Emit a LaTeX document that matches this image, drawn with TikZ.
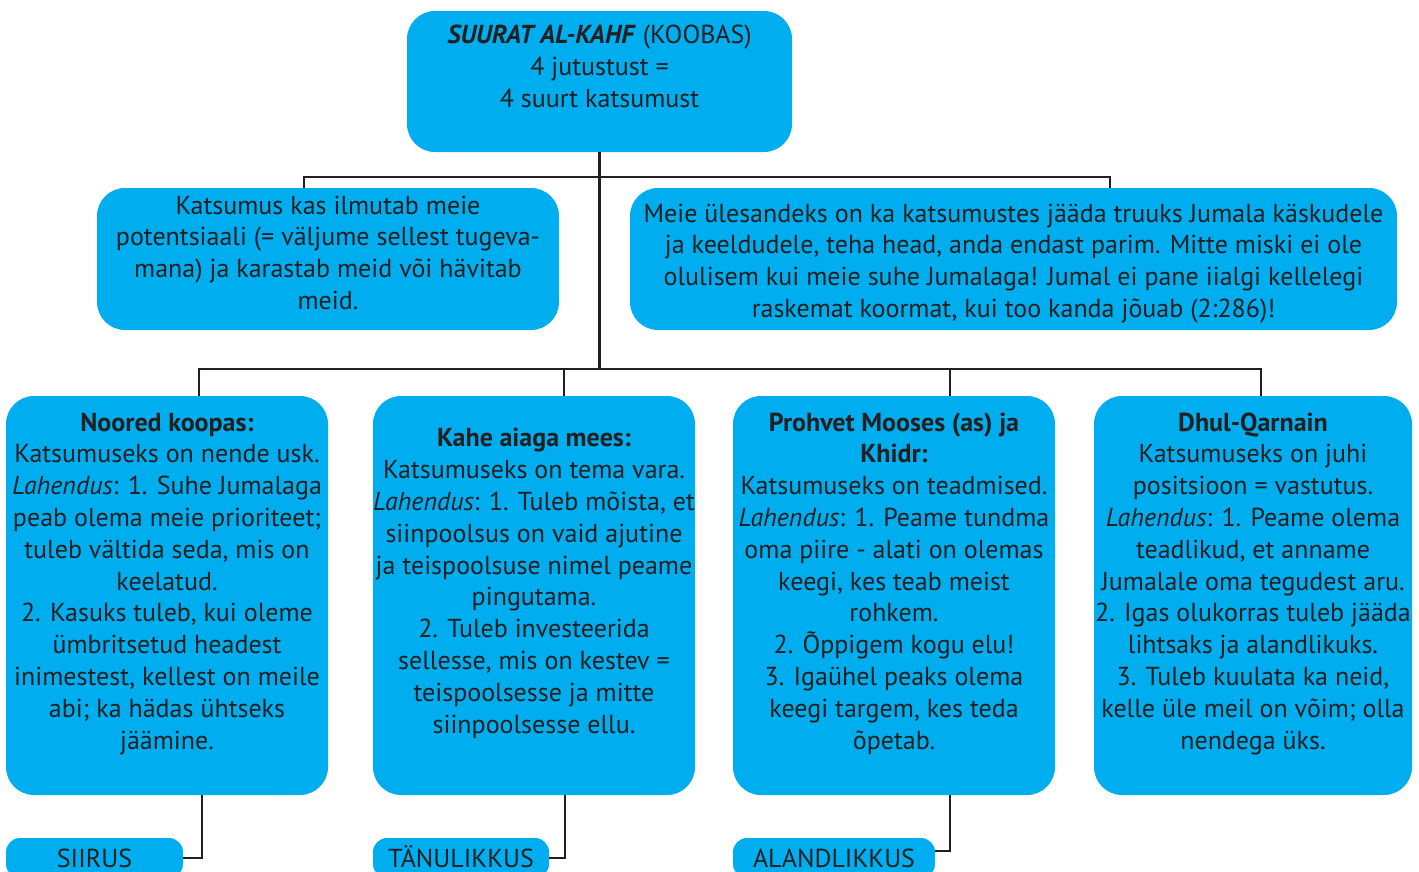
\documentclass[tikz,border=0pt]{standalone}
\usepackage{fontspec}
\setmainfont{PT Sans}
\usetikzlibrary{positioning}
\definecolor{boxcyan}{HTML}{00AEEF}
\definecolor{inkdark}{HTML}{231F20}
\tikzset{
  box/.style={fill=boxcyan, rounded corners=28pt, inner sep=0pt},
  txt/.style={align=center, text=inkdark, inner sep=0pt, anchor=base,
    font=\fontsize{26}{31.8}\selectfont},
  tag/.style={fill=boxcyan, rounded corners=14pt, text=inkdark, inner sep=0pt,
    minimum height=40pt, text height=18pt, text depth=0pt,
    font=\fontsize{26}{31.8}\selectfont},
  link/.style={draw=inkdark, line width=2.3pt}
}
\begin{document}
\begin{tikzpicture}[x=1pt,y=-1pt]
	\useasboundingbox (0,0) rectangle (1419,871);

	% boxes
	\node[box, minimum width=385pt, minimum height=141pt] (top) at (599.5,81.5) {};
	\node[box, minimum width=462pt, minimum height=142pt] (ml) at (328,259) {};
	\node[box, minimum width=767pt, minimum height=142pt] (mr) at (1013.5,259) {};
	\node[box, minimum width=322pt, minimum height=399pt] (b1) at (167,595.5) {};
	\node[box, minimum width=322pt, minimum height=399pt] (b2) at (534,595.5) {};
	\node[box, minimum width=322pt, minimum height=399pt] (b3) at (894,595.5) {};
	\node[box, minimum width=318pt, minimum height=399pt] (b4) at (1253,595.5) {};

	% texts (anchored at the baseline of their last line)
	\node[txt] (toptxt) at (599.5,107) {\textbf{\textit{SUURAT AL-KAHF}} (KOOBAS)\\4 jutustust =\\4 suurt katsumust};
	\node[txt] (mltxt) at (328,309.5) {Katsumus kas ilmutab meie\\potentsiaali (= väljume sellest tugeva-\\mana) ja karastab meid või hävitab\\meid.};
	\node[txt] (mrtxt) at (1013.5,317.5) {Meie ülesandeks on ka katsumustes jääda truuks Jumala käskudele\\ja keeldudele, teha head, anda endast parim. Mitte miski ei ole\\olulisem kui meie suhe Jumalaga! Jumal ei pane iialgi kellelegi\\raskemat koormat, kui too kanda jõuab (2:286)!};
	\node[txt] (b1txt) at (167,749) {\textbf{Noored koopas:}\\Katsumuseks on nende usk.\\\textit{Lahendus}: 1. Suhe Jumalaga\\peab olema meie prioriteet;\\tuleb vältida seda, mis on\\keelatud.\\2. Kasuks tuleb, kui oleme\\ümbritsetud headest\\inimestest, kellest on meile\\abi; ka hädas ühtseks\\jäämine.};
	\node[txt] (b2txt) at (534,733) {\textbf{Kahe aiaga mees:}\\Katsumuseks on tema vara.\\\textit{Lahendus}: 1. Tuleb mõista, et\\siinpoolsus on vaid ajutine\\ja teispoolsuse nimel peame\\pingutama.\\2. Tuleb investeerida\\sellesse, mis on kestev =\\teispoolsesse ja mitte\\siinpoolsesse ellu.};
	\node[txt] (b3txt) at (894,749) {\textbf{Prohvet Mooses (as) ja}\\\textbf{Khidr:}\\Katsumuseks on teadmised.\\\textit{Lahendus}: 1. Peame tundma\\oma piire - alati on olemas\\keegi, kes teab meist\\rohkem.\\2. Õppigem kogu elu!\\3. Igaühel peaks olema\\keegi targem, kes teda\\õpetab.};
	\node[txt] (b4txt) at (1253,749) {\textbf{Dhul-Qarnain}\\Katsumuseks on juhi\\positsioon = vastutus.\\\textit{Lahendus}: 1. Peame olema\\teadlikud, et anname\\Jumalale oma tegudest aru.\\2. Igas olukorras tuleb jääda\\lihtsaks ja alandlikuks.\\3. Tuleb kuulata ka neid,\\kelle üle meil on võim; olla\\nendega üks.};

	% tags
	\node[tag, minimum width=177pt] (siirus) at (94.5,858) {SIIRUS};
	\node[tag, minimum width=176pt] (tanu) at (461,858) {TÄNULIKKUS};
	\node[tag, minimum width=202pt] (aland) at (834,858) {ALANDLIKKUS};

	% connectors
	\coordinate (j0) at (599.5,177);
	\coordinate (ja) at (304,177);
	\coordinate (jb) at (1110,177);
	\coordinate (k0) at (599.5,369);
	\coordinate (k1) at (199,369);
	\coordinate (k2) at (564,369);
	\coordinate (k3) at (950,369);
	\coordinate (k4) at (1261,369);
	\draw[link] (top.south) -- (j0);
	\draw[link] (ja |- ml.north) -- (ja) -- (jb) -- (jb |- mr.north);
	\draw[link] (j0) -- (k0);
	\draw[link] (k1 |- b1.north) -- (k1) -- (k4) -- (k4 |- b4.north);
	\draw[link] (k2) -- (k2 |- b2.north);
	\draw[link] (k3) -- (k3 |- b3.north);

	\coordinate (s1) at (202,858);
	\coordinate (s2) at (565,858);
	\coordinate (s3) at (950,851);
	\draw[link] (s1 |- b1.south) -- (s1) -- (s1 -| siirus.east);
	\draw[link] (s2 |- b2.south) -- (s2) -- (s2 -| tanu.east);
	\draw[link] (s3 |- b3.south) -- (s3) -- (s3 -| aland.east);
\end{tikzpicture}
\end{document}
